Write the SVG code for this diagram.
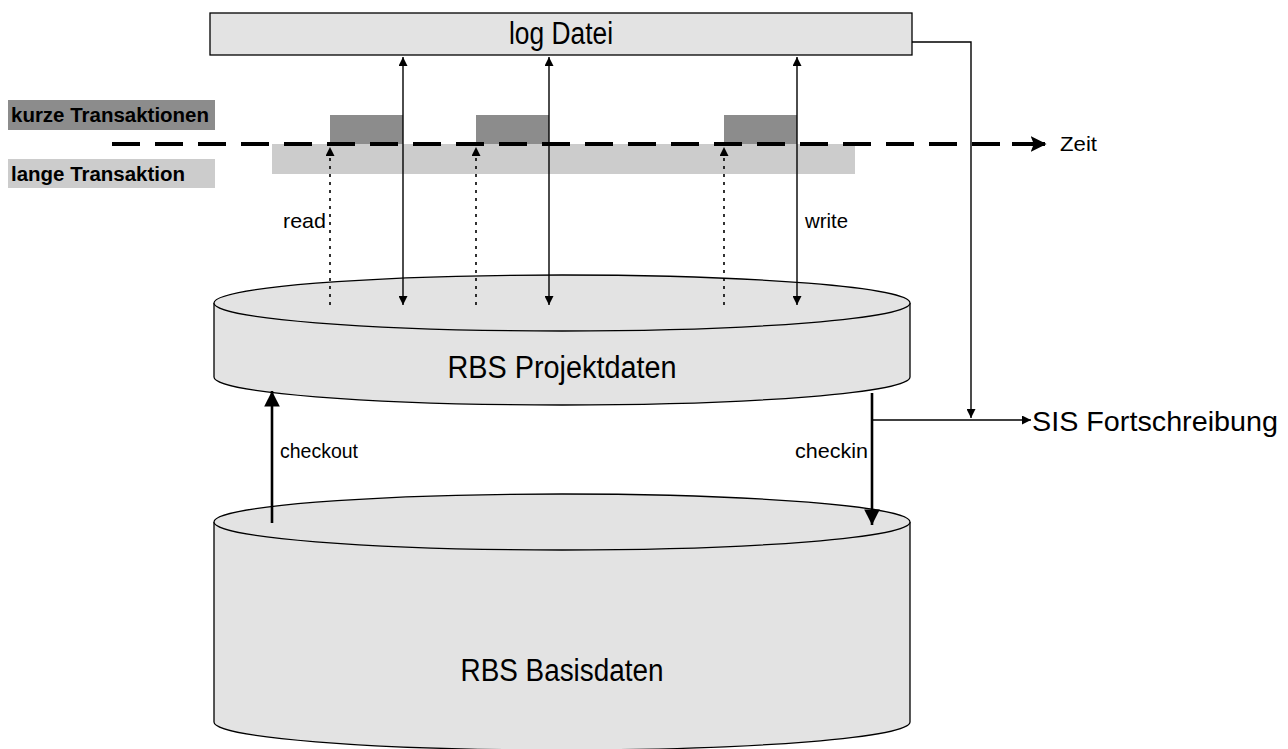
<svg xmlns="http://www.w3.org/2000/svg" width="1288" height="749" viewBox="0 0 1288 749">
  <defs>
    <style>
      .box { fill: #e3e3e3; stroke: #000; stroke-width: 1.3; }
      .cyl { fill: #e3e3e3; stroke: #000; stroke-width: 1.3; }
      .big { font-family: "Liberation Sans", Arial, sans-serif; font-size: 31px; fill: #000; }
      .small { font-family: "Liberation Sans", Arial, sans-serif; font-size: 21px; fill: #000; }
      .bold { font-family: "Liberation Sans", Arial, sans-serif; font-size: 20px; font-weight: bold; fill: #000; }
      .ln { fill: none; stroke: #000; stroke-width: 1.4; }
      .thick { fill: none; stroke: #000; stroke-width: 2.6; }
      .dot { fill: none; stroke: #000; stroke-width: 1.6; stroke-dasharray: 3 5; }
      .dash { fill: none; stroke: #000; stroke-width: 4; stroke-dasharray: 28 15; }
    </style>
    <marker id="ah" viewBox="0 0 10 10" refX="10" refY="5" markerWidth="9" markerHeight="9" markerUnits="userSpaceOnUse" orient="auto-start-reverse">
      <path d="M0,0 L10,5 L0,10 z" fill="#000"/>
    </marker>
    <marker id="ahb" viewBox="0 0 10 10" refX="10" refY="5" markerWidth="6" markerHeight="6" orient="auto">
      <path d="M0,0 L10,5 L0,10 z" fill="#000"/>
    </marker>
    <marker id="ahz" viewBox="0 0 10 10" refX="9" refY="5" markerWidth="4" markerHeight="4" orient="auto">
      <path d="M0,0 L10,5 L0,10 L2,5 z" fill="#000"/>
    </marker>
  </defs>

  <rect width="1288" height="749" fill="#fff"/>

  <!-- legend labels -->
  <g id="legend-kurz">
    <rect x="8" y="100" width="207" height="30" fill="#8c8c8c"/>
    <text class="bold" x="11" y="122" textLength="198" lengthAdjust="spacingAndGlyphs">kurze Transaktionen</text>
  </g>
  <g id="legend-lang">
    <rect x="8" y="159" width="207" height="29" fill="#cccccc"/>
    <text class="bold" x="11" y="181" textLength="174" lengthAdjust="spacingAndGlyphs">lange Transaktion</text>
  </g>

  <!-- transaction bars -->
  <g id="lange-transaktion">
    <rect x="272" y="144" width="583" height="30" fill="#cccccc"/>
  </g>
  <g id="kurze-transaktionen">
    <rect x="330" y="115" width="73" height="29" fill="#8c8c8c"/>
    <rect x="476" y="115" width="73" height="29" fill="#8c8c8c"/>
    <rect x="724" y="115" width="73" height="29" fill="#8c8c8c"/>
  </g>

  <!-- log file -->
  <g id="log-datei">
    <rect class="box" x="210" y="13" width="702" height="42"/>
    <text class="big" x="561" y="44" text-anchor="middle" textLength="104" lengthAdjust="spacingAndGlyphs">log Datei</text>
  </g>

  <!-- project data cylinder -->
  <g id="rbs-projektdaten">
    <path class="cyl" d="M214,303 L214,377 A348,28 0 0 0 910,377 L910,303 A348,28 0 0 0 214,303 Z"/>
    <path class="cyl" d="M214,303 A348,28 0 0 0 910,303"/>
    <text class="big" x="562" y="378" text-anchor="middle" textLength="229" lengthAdjust="spacingAndGlyphs">RBS Projektdaten</text>
  </g>

  <!-- base data cylinder -->
  <g id="rbs-basisdaten">
    <path class="cyl" d="M214,522 L214,722 A348,28 0 0 0 910,722 L910,522 A348,28 0 0 0 214,522 Z"/>
    <path class="cyl" d="M214,522 A348,28 0 0 0 910,522"/>
    <text class="big" x="562" y="681" text-anchor="middle" textLength="203" lengthAdjust="spacingAndGlyphs">RBS Basisdaten</text>
  </g>

  <!-- connectors -->
  <g id="connectors">
    <!-- time axis -->
    <line class="dash" x1="112" y1="144" x2="1040" y2="144"/>
    <line x1="1012" y1="144" x2="1045" y2="144" stroke="#000" stroke-width="4" marker-end="url(#ahz)"/>
    <text class="small" x="1060" y="151" textLength="37" lengthAdjust="spacingAndGlyphs">Zeit</text>

    <!-- read accesses (dotted) -->
    <line class="dot" x1="330" y1="305" x2="330" y2="147" marker-end="url(#ah)"/>
    <line class="dot" x1="476" y1="305" x2="476" y2="147" marker-end="url(#ah)"/>
    <line class="dot" x1="724" y1="305" x2="724" y2="147" marker-end="url(#ah)"/>
    <text class="small" x="283" y="228" textLength="43" lengthAdjust="spacingAndGlyphs">read</text>

    <!-- write accesses, log file <-> project data -->
    <line class="ln" x1="403" y1="57" x2="403" y2="305" marker-start="url(#ah)" marker-end="url(#ah)"/>
    <line class="ln" x1="549" y1="57" x2="549" y2="305" marker-start="url(#ah)" marker-end="url(#ah)"/>
    <line class="ln" x1="797" y1="57" x2="797" y2="305" marker-start="url(#ah)" marker-end="url(#ah)"/>
    <text class="small" x="805" y="228" textLength="43" lengthAdjust="spacingAndGlyphs">write</text>

    <!-- checkout / checkin -->
    <line class="thick" x1="272" y1="523" x2="272" y2="391" marker-end="url(#ahb)"/>
    <text class="small" x="280" y="458" textLength="78" lengthAdjust="spacingAndGlyphs">checkout</text>
    <line class="thick" x1="872" y1="393" x2="872" y2="525" marker-end="url(#ahb)"/>
    <text class="small" x="795" y="458" textLength="73" lengthAdjust="spacingAndGlyphs">checkin</text>

    <!-- SIS update -->
    <polyline class="ln" points="912,42 971,42 971,418" marker-end="url(#ah)"/>
    <line class="ln" x1="872" y1="420" x2="1031" y2="420" marker-end="url(#ah)"/>
    <text class="big" x="1032" y="431" style="font-size:28px" textLength="246" lengthAdjust="spacingAndGlyphs">SIS Fortschreibung</text>
  </g>
</svg>
